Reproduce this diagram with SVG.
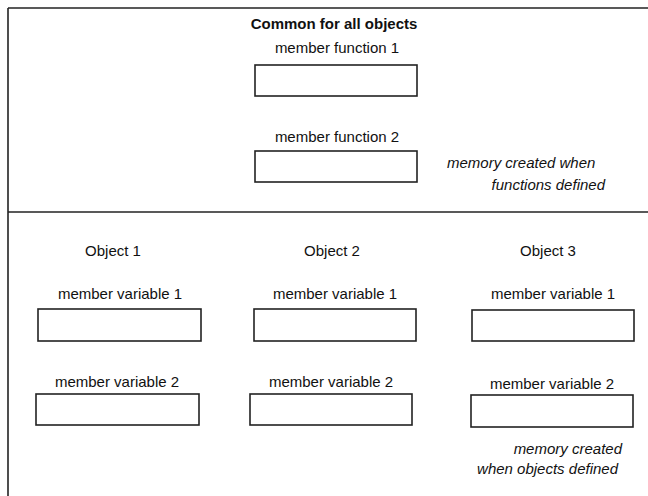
<svg xmlns="http://www.w3.org/2000/svg" width="648" height="496" viewBox="0 0 648 496">
<style>
  .frame { stroke: #222; stroke-width: 1.6; fill: none; }
  .box { fill: #fff; stroke: #222; stroke-width: 1.6; }
  text { font-family: "Liberation Sans", Arial, Helvetica, sans-serif; font-size: 15px; fill: #111; }
  .c { text-anchor: middle; }
  .b { font-weight: bold; }
  .i { font-style: italic; }
  .e { text-anchor: end; }
</style>
<rect width="648" height="496" fill="#fff"/>
<g id="frame">
  <line class="frame" x1="8" y1="8" x2="648" y2="8"/>
  <line class="frame" x1="8" y1="8" x2="8" y2="496"/>
  <line class="frame" x1="8" y1="212" x2="648" y2="212"/>
</g>
<g id="common">
  <text class="c b" x="334" y="29">Common for all objects</text>
</g>
<g id="func1">
  <text class="c" x="337" y="53">member function 1</text>
  <rect class="box" x="255" y="65" width="162" height="31"/>
</g>
<g id="func2">
  <text class="c" x="337" y="142">member function 2</text>
  <rect class="box" x="255" y="151" width="162" height="31"/>
</g>
<g id="note-functions">
  <text class="i" x="447" y="168">memory created when</text>
  <text class="i e" x="605" y="190">functions defined</text>
</g>
<g id="object1">
  <text class="c" x="113" y="256">Object 1</text>
  <text class="c" x="120" y="299">member variable 1</text>
  <rect class="box" x="38" y="309" width="163" height="32"/>
  <text class="c" x="117" y="387">member variable 2</text>
  <rect class="box" x="36" y="394" width="163" height="31"/>
</g>
<g id="object2">
  <text class="c" x="332" y="256">Object 2</text>
  <text class="c" x="335" y="299">member variable 1</text>
  <rect class="box" x="254" y="309" width="162" height="32"/>
  <text class="c" x="331" y="387">member variable 2</text>
  <rect class="box" x="250" y="394" width="162" height="31"/>
</g>
<g id="object3">
  <text class="c" x="548" y="256">Object 3</text>
  <text class="c" x="553" y="299">member variable 1</text>
  <rect class="box" x="472" y="310" width="162" height="31"/>
  <text class="c" x="552" y="389">member variable 2</text>
  <rect class="box" x="471" y="395" width="162" height="32"/>
</g>
<g id="note-objects">
  <text class="i e" x="622" y="454">memory created</text>
  <text class="i e" x="618" y="474">when objects defined</text>
</g>
</svg>
